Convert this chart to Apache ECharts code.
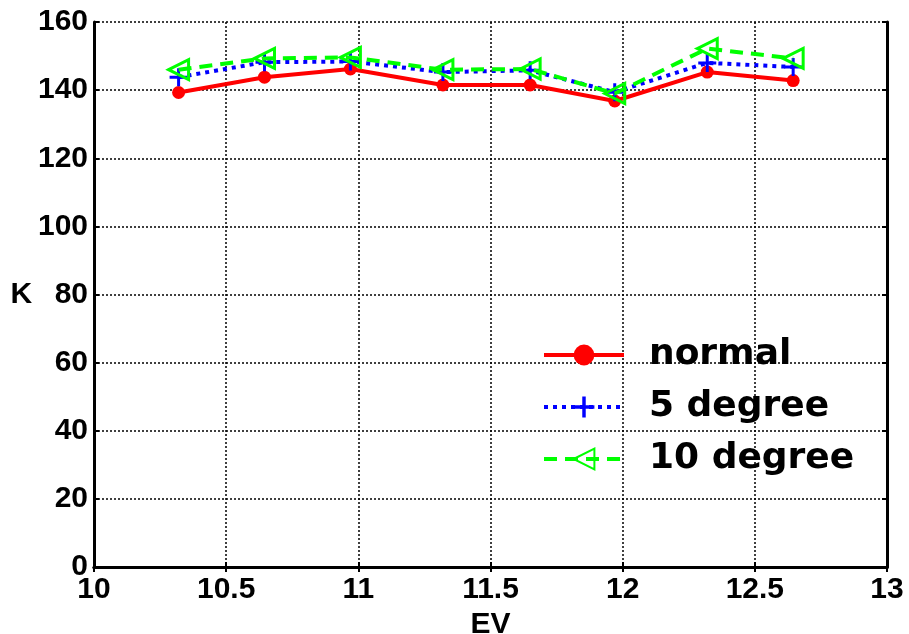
<!DOCTYPE html>
<html lang="en">
<head>
  <meta charset="UTF-8">
  <title>K vs EV</title>
  <style>
    html, body { margin: 0; padding: 0; background: #fff; }
  </style>
</head>
<body>
  <div id="main" style="width: 909px;height:634px;"></div>

  <script src="https://cdn.jsdelivr.net/npm/echarts@6/dist/echarts.min.js"></script>
  <script>
    const evValues = [10.32, 10.645, 10.97, 11.32, 11.65, 11.97, 12.32, 12.645];
    const normal = [139.3, 143.8, 146.2, 141.5, 141.5, 136.8, 145.3, 142.8];
    const degree5 = [143.8, 148.2, 148.4, 145.3, 145.8, 139.4, 148.0, 146.8];
    const degree10 = [146.0, 149.3, 149.6, 146.0, 146.2, 139.0, 152.2, 149.3];
    const seriesNames = ['normal', '5 degree', '10 degree'];

    const pairs = (ys) => evValues.map((x, i) => [x, ys[i]]);

    const myChart = echarts.init(document.getElementById('main'));

    const tickFont = {
      fontFamily: 'Liberation Sans',
      fontWeight: 'bold',
      fontSize: 30,
      color: '#000'
    };
    const gridLine = {
      show: true,
      lineStyle: { color: '#000', width: 1.5, type: [2, 2] }
    };
    const edge = { show: true, lineStyle: { color: '#000', width: 3 } };
    const tick = { show: true, inside: true, length: 5, lineStyle: { color: '#000', width: 2 } };

    const plusPath = 'path://M-1,-6H1V-1H6V1H1V6H-1V1H-6V-1H-1Z';

    const options = {
      animation: false,
      backgroundColor: '#fff',
      grid: { left: 94, top: 22, right: 22, bottom: 67, outerBoundsMode: 'none' },
      legend: {
        orient: 'vertical',
        left: 537,
        top: 332,
        itemWidth: 80,
        itemHeight: 26,
        itemGap: 16,
        lineStyle: { width: 4 },
        textStyle: {
          fontFamily: 'DejaVu Sans',
          fontWeight: 'bold',
          fontSize: 36,
          lineHeight: 36,
          color: '#000',
          padding: [0, 0, 0, 20]
        },
        data: seriesNames
      },
      xAxis: [
        {
          type: 'value',
          min: 10, max: 13, interval: 0.5,
          name: 'EV',
          nameLocation: 'middle',
          nameGap: 35,
          nameTextStyle: tickFont,
          axisLine: edge,
          axisTick: tick,
          axisLabel: Object.assign({ margin: 8 }, tickFont),
          splitLine: gridLine
        },
        {
          type: 'value', position: 'top',
          min: 10, max: 13, interval: 0.5,
          axisLine: edge, axisTick: tick,
          axisLabel: { show: false }, splitLine: { show: false }
        }
      ],
      yAxis: [
        {
          type: 'value',
          min: 0, max: 160, interval: 20,
          name: 'K',
          nameLocation: 'middle',
          nameRotate: 0,
          nameGap: 59,
          nameTextStyle: tickFont,
          axisLine: edge,
          axisTick: tick,
          axisLabel: Object.assign({ margin: 6 }, tickFont),
          splitLine: gridLine
        },
        {
          type: 'value', position: 'right',
          min: 0, max: 160, interval: 20,
          axisLine: edge, axisTick: tick,
          axisLabel: { show: false }, splitLine: { show: false }
        }
      ],
      series: [
        {
          name: seriesNames[0],
          type: 'line',
          data: pairs(normal),
          symbol: 'circle',
          symbolSize: 13,
          itemStyle: { color: '#ff0000' },
          lineStyle: { color: '#ff0000', width: 4, type: 'solid' },
          z: 3
        },
        {
          name: seriesNames[1],
          type: 'line',
          data: pairs(degree5),
          symbol: plusPath,
          symbolSize: 18,
          itemStyle: { color: '#0000ff' },
          lineStyle: { color: '#0000ff', width: 4, type: [4, 5] },
          z: 4
        },
        {
          name: seriesNames[2],
          type: 'line',
          data: pairs(degree10),
          symbol: 'triangle',
          symbolRotate: 90,
          symbolSize: 20,
          itemStyle: { color: 'rgba(0,0,0,0)', borderColor: '#00ff00', borderWidth: 3 },
          lineStyle: { color: '#00ff00', width: 4, type: [13, 8] },
          z: 5
        }
      ]
    };

    myChart.setOption(options);
  </script>
</body>
</html>
